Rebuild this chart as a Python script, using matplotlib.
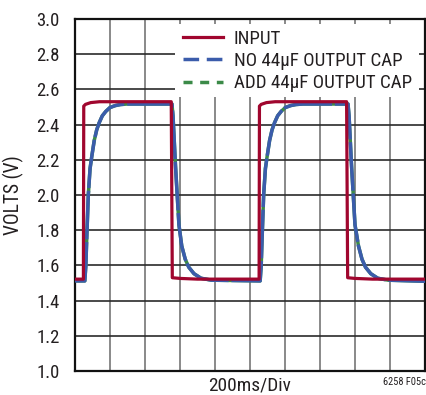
import matplotlib
matplotlib.use("Agg")
import matplotlib.pyplot as plt
from matplotlib.lines import Line2D
from matplotlib.patches import Rectangle
from matplotlib import font_manager

CANDIDATES = ['Liberation Sans Narrow', 'DejaVu Sans Condensed', 'Roboto Condensed',
              'Open Sans Condensed', 'Noto Sans Condensed', 'Liberation Sans']
FONT = 'Liberation Sans'
for c in CANDIDATES:
    try:
        font_manager.findfont(font_manager.FontProperties(family=c), fallback_to_default=False)
        FONT = c
        break
    except Exception:
        pass
plt.rcParams['font.family'] = [FONT, 'DejaVu Sans']

# time in divisions (200ms/div), volts
input_x = [0, 0.24, 0.25, 0.30, 0.45, 0.70, 2.75, 2.78, 3.00, 3.50, 5.26, 5.27, 5.32, 5.47, 5.72, 7.76, 7.79, 8.00, 8.50, 10]
input_y = [1.522, 1.522, 2.505, 2.515, 2.525, 2.530, 2.530, 1.530, 1.526, 1.522, 1.522, 2.505, 2.515, 2.525, 2.530, 2.530, 1.530, 1.526, 1.522, 1.522]

out_x = [0, 0.28, 0.31, 0.34, 0.38, 0.43, 0.48, 0.55, 0.62, 0.69, 0.78, 0.88, 1.00, 1.15, 1.30, 1.50, 2.77,
         2.80, 2.83, 2.87, 2.92, 2.97, 3.05, 3.15, 3.25, 3.40, 3.60, 3.90, 5.29,
         5.32, 5.35, 5.39, 5.44, 5.49, 5.56, 5.63, 5.70, 5.79, 5.89, 6.01, 6.16, 6.31, 6.51, 7.80,
         7.83, 7.86, 7.90, 7.95, 8.00, 8.10, 8.20, 8.30, 8.45, 8.65, 8.95, 10]
out_y = [1.512, 1.512, 1.60, 1.78, 2.00, 2.15, 2.22, 2.31, 2.37, 2.41, 2.45, 2.475, 2.497, 2.508, 2.514, 2.517, 2.517,
         2.45, 2.33, 2.17, 2.00, 1.83, 1.71, 1.635, 1.59, 1.553, 1.527, 1.516, 1.512,
         1.60, 1.78, 2.00, 2.15, 2.22, 2.31, 2.37, 2.41, 2.45, 2.475, 2.497, 2.508, 2.514, 2.517, 2.517,
         2.45, 2.33, 2.17, 2.00, 1.83, 1.71, 1.635, 1.59, 1.553, 1.527, 1.516, 1.510]

add_x = out_x
add_y = out_y

labels = ['INPUT', 'NO 44µF OUTPUT CAP', 'ADD 44µF OUTPUT CAP']
yticks = [1.0, 1.2, 1.4, 1.6, 1.8, 2.0, 2.2, 2.4, 2.6, 2.8, 3.0]

RED = '#a0062e'
BLUE = '#3b5cab'
GREEN = '#3b8a48'
TXT = '#231f20'

fig = plt.figure(figsize=(4.27, 3.95), dpi=100)
renderer = fig.canvas.get_renderer()


def fit_size(text, target_px, base=12.0, maxsize=15.0):
    t = fig.text(0, 0, text, fontsize=base)
    w = t.get_window_extent(renderer).width
    t.remove()
    return min(maxsize, base * target_px / w)


leg_fs = fit_size(labels[2], 178)
tick_fs = fit_size('3.0', 23)
lab_fs = fit_size('VOLTS (V)', 80)
div_fs = fit_size('200ms/Div', 82)
note_fs = fit_size('6258 F05c', 43, base=7, maxsize=9)

ax = fig.add_axes([75/427, 1-371/395, 350/427, 352/395])
ax.set_xlim(0, 10)
ax.set_ylim(1.0, 3.0)
ax.set_xticks(range(0, 11))
ax.set_xticklabels([])
ax.set_yticks(yticks)
ax.set_yticklabels([f'{v:.1f}' for v in yticks], fontsize=tick_fs, color=TXT)
ax.tick_params(length=0, pad=11)
ax.set_axisbelow(True)
ax.xaxis.grid(True, color='#808080', lw=1.3)
ax.yaxis.grid(True, color='#2a2a2a', lw=1.2)
for s in ax.spines.values():
    s.set_color('#111111')
    s.set_linewidth(1.6)

ax.add_patch(Rectangle((2.86, 2.555), 6.98, 0.415, facecolor='white', edgecolor='none', zorder=1))

ax.plot(add_x, add_y, color=GREEN, lw=2.5, zorder=2)
ax.plot(out_x, out_y, color=BLUE, lw=2.5, dashes=(14, 0.8), zorder=3)
ax.plot(input_x, input_y, color=RED, lw=2.3, zorder=4)

fs_px = leg_fs * 100 / 72
handles = [Line2D([], [], color=RED, lw=2.3),
           Line2D([], [], color=BLUE, lw=2.5, dashes=(4.5, 2.2)),
           Line2D([], [], color=GREEN, lw=2.5, dashes=(2.6, 2.2))]
leg = ax.legend(handles, labels, loc='upper left',
                bbox_to_anchor=((183 - 75) / 350, 1 - (30 - 19) / 352), frameon=False,
                fontsize=leg_fs, handlelength=40 / fs_px, handletextpad=11 / fs_px,
                labelspacing=(25 - 1.1 * fs_px) / fs_px, borderaxespad=0, borderpad=0)
for t in leg.get_texts():
    t.set_color(TXT)

ax.set_ylabel('VOLTS (V)', fontsize=lab_fs, color=TXT, labelpad=9)
fig.text(250/427, 1-385/395, '200ms/Div', fontsize=div_fs, color=TXT, ha='center', va='center')
fig.text(426/427, 1-382/395, '6258 F05c', fontsize=note_fs, color=TXT, ha='right', va='center')

fig.savefig('out.png', dpi=100)
